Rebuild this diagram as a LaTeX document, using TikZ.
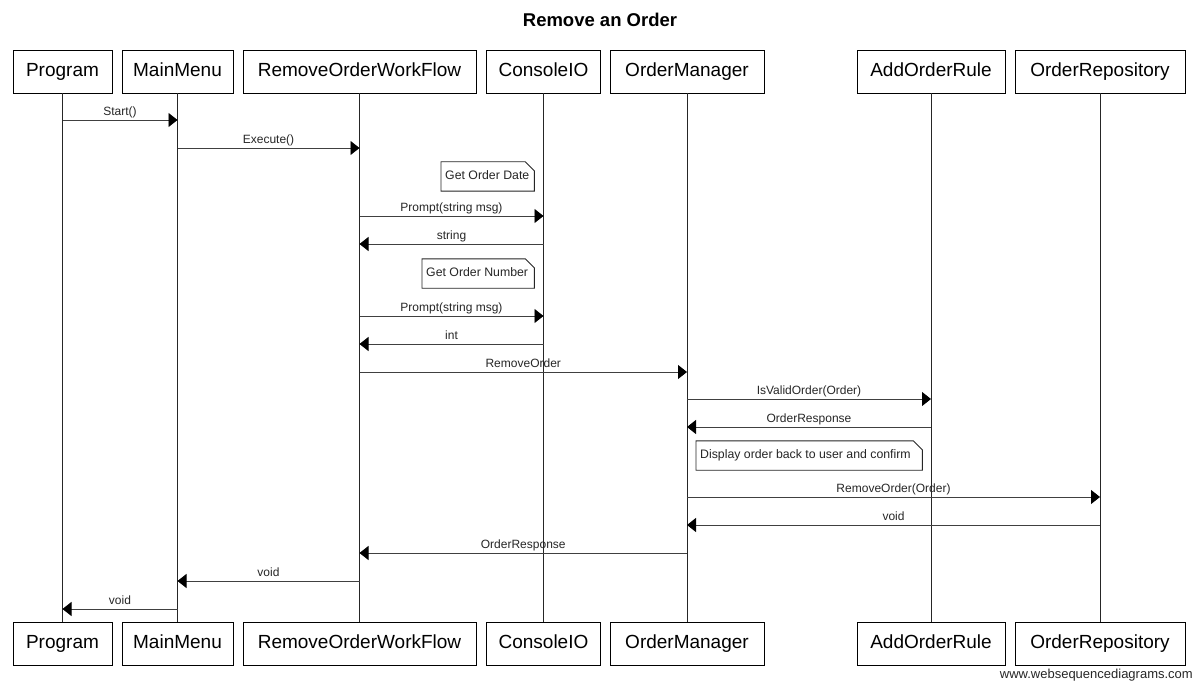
\documentclass[tikz,border=0pt]{standalone}
\usepackage{fontspec}
\setmainfont{Liberation Sans}
\usetikzlibrary{arrows.meta}
\begin{document}
\begin{tikzpicture}[x=1pt,y=-1pt,
  actor/.style={draw=black,line width=0.9pt,fill=white,minimum height=43pt,inner xsep=2pt,inner ysep=0pt,
    text height=14pt,text depth=4pt,font=\fontsize{19}{22}\selectfont},
  lifeline/.style={draw=black!85,line width=0.9pt},
  msg/.style={draw=black!75,line width=0.9pt,-{Triangle[length=9pt,width=14pt,color=black]}},
  lbl/.style={above=0.5pt,inner sep=1pt,text height=9pt,text depth=2.5pt,font=\fontsize{12}{14}\selectfont,text=black!85},
  notebox/.style={inner xsep=4pt,inner ysep=0pt,minimum height=29pt,text height=9pt,text depth=2.5pt,
    font=\fontsize{12.3}{14}\selectfont,text=black!85,anchor=west},
  notefold/.style={draw=black!85,line width=0.9pt,fill=white}
]
\useasboundingbox (0,0) rectangle (1200,690);

\node[font=\bfseries\fontsize{18.5}{22}\selectfont] (title) at (600,20) {Remove an Order};

% top actors
\node[actor,minimum width=99pt]  (pT) at (62.5,71.5) {Program};
\node[actor,minimum width=111pt] (mT) at (177.5,71.5) {MainMenu};
\node[actor,minimum width=233pt] (wT) at (359.5,71.5) {RemoveOrderWorkFlow};
\node[actor,minimum width=114pt] (cT) at (543.5,71.5) {ConsoleIO};
\node[actor,minimum width=154pt] (oT) at (687,71.5) {OrderManager};
\node[actor,minimum width=148pt] (aT) at (931,71.5) {AddOrderRule};
\node[actor,minimum width=170pt] (rT) at (1100,71.5) {OrderRepository};

% bottom actors
\node[actor,minimum width=99pt]  (pB) at (62.5,643.5) {Program};
\node[actor,minimum width=111pt] (mB) at (177.5,643.5) {MainMenu};
\node[actor,minimum width=233pt] (wB) at (359.5,643.5) {RemoveOrderWorkFlow};
\node[actor,minimum width=114pt] (cB) at (543.5,643.5) {ConsoleIO};
\node[actor,minimum width=154pt] (oB) at (687,643.5) {OrderManager};
\node[actor,minimum width=148pt] (aB) at (931,643.5) {AddOrderRule};
\node[actor,minimum width=170pt] (rB) at (1100,643.5) {OrderRepository};

% lifelines
\foreach \a in {p,m,w,c,o,a,r}{
  \draw[lifeline] (\a T.south) -- (\a B.north);
}

% notes (outline first, then text on top)
\node[notebox,minimum width=93pt] (n1) at (441,176.5) {};
\node[notebox,minimum width=112pt] (n2) at (422,273.5) {};
\node[notebox,minimum width=226pt] (n3) at (696,455.5) {};
\foreach \n in {n1,n2,n3}{
  \path[notefold] (\n.south west) -- (\n.north west) -- ([xshift=-9pt]\n.north east)
     -- ([yshift=-9pt]\n.north east) -- (\n.south east) -- cycle;
}
\node[notebox] (t1) at (n1.west) {Get Order Date};
\node[notebox] (t2) at (n2.west) {Get Order Number};
\node[notebox] (t3) at (n3.west) {Display order back to user and confirm};

% messages
\draw[msg] (pT |- 0,120) -- node[lbl] {Start()} (mT |- 0,120);
\draw[msg] (mT |- 0,148) -- node[lbl] {Execute()} (wT |- 0,148);
\draw[msg] (wT |- 0,216) -- node[lbl] {Prompt(string msg)} (cT |- 0,216);
\draw[msg] (cT |- 0,244) -- node[lbl] {string} (wT |- 0,244);
\draw[msg] (wT |- 0,316) -- node[lbl] {Prompt(string msg)} (cT |- 0,316);
\draw[msg] (cT |- 0,344) -- node[lbl] {int} (wT |- 0,344);
\draw[msg] (wT |- 0,372) -- node[lbl] {RemoveOrder} (oT |- 0,372);
\draw[msg] (oT |- 0,399) -- node[lbl] {IsValidOrder(Order)} (aT |- 0,399);
\draw[msg] (aT |- 0,427) -- node[lbl] {OrderResponse} (oT |- 0,427);
\draw[msg] (oT |- 0,497) -- node[lbl] {RemoveOrder(Order)} (rT |- 0,497);
\draw[msg] (rT |- 0,525) -- node[lbl] {void} (oT |- 0,525);
\draw[msg] (oT |- 0,553) -- node[lbl] {OrderResponse} (wT |- 0,553);
\draw[msg] (wT |- 0,581) -- node[lbl] {void} (mT |- 0,581);
\draw[msg] (mT |- 0,609) -- node[lbl] {void} (pT |- 0,609);

\node[anchor=east,inner sep=0pt,font=\fontsize{13}{15}\selectfont,text=black!85] (web) at (1193,675) {www.websequencediagrams.com};
\end{tikzpicture}
\end{document}
